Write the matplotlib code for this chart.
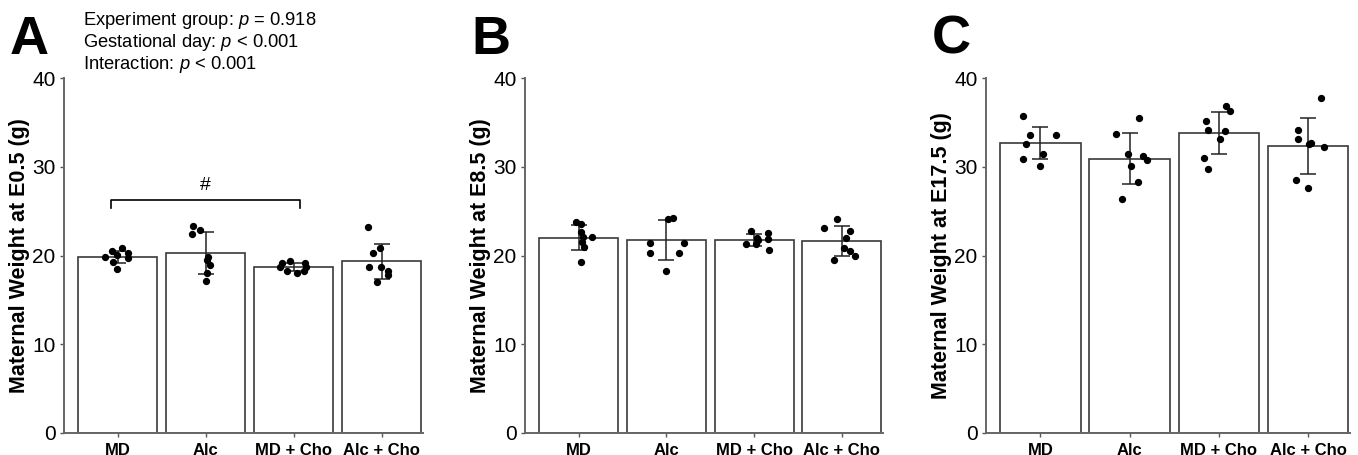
import matplotlib.pyplot as plt

plt.rcParams['font.family'] = ['Liberation Sans', 'DejaVu Sans']
plt.rcParams['mathtext.fontset'] = 'custom'
plt.rcParams['mathtext.it'] = 'Liberation Sans:italic'
plt.rcParams['mathtext.rm'] = 'Liberation Sans'

groups = ['MD', 'Alc', 'MD + Cho', 'Alc + Cho']

# bar means and SD (g)
means_a = [19.87, 20.25, 18.67, 19.35]
sd_a = [0.68, 2.35, 0.47, 2.0]
means_b = [22.0, 21.75, 21.75, 21.6]
sd_b = [1.42, 2.25, 0.7, 1.7]
means_c = [32.7, 30.9, 33.8, 32.3]
sd_c = [1.8, 2.87, 2.4, 3.15]

# individual dams
dots_a = [
    [19.84, 20.5, 20.1, 20.8, 20.25, 19.7, 19.3, 18.45],
    [23.3, 22.9, 22.4, 19.8, 19.5, 18.9, 18.0, 17.1],
    [19.2, 19.4, 19.2, 18.7, 18.2, 18.0, 18.3, 18.7],
    [23.2, 20.9, 20.3, 18.7, 18.7, 18.2, 17.8, 17.05],
]
dots_b = [
    [23.8, 23.5, 22.7, 22.1, 22.1, 21.5, 21.0, 19.3],
    [24.15, 24.26, 21.4, 21.4, 20.25, 20.25, 18.3],
    [22.8, 22.5, 22.0, 21.9, 21.75, 21.3, 21.3, 20.6],
    [24.15, 23.1, 22.8, 22.0, 20.8, 20.5, 19.9, 19.45],
]
dots_c = [
    [35.7, 33.6, 33.6, 32.6, 31.4, 30.9, 30.1],
    [35.5, 33.7, 31.4, 31.25, 30.8, 30.05, 28.3, 26.4],
    [36.9, 36.25, 35.1, 34.1, 34.0, 33.1, 31.0, 29.8],
    [37.7, 34.1, 33.1, 32.7, 32.55, 32.2, 28.5, 27.6],
]

# horizontal jitter of the dots (category units)
jit_a = [
    [-0.14, -0.07, -0.01, 0.05, 0.12, 0.12, -0.05, -0.01],
    [-0.14, -0.06, -0.15, 0.03, 0.01, 0.05, 0.01, 0.0],
    [-0.13, -0.04, 0.13, -0.15, -0.07, 0.04, 0.12, 0.14],
    [-0.15, -0.02, -0.10, -0.14, -0.01, 0.07, 0.07, -0.05],
]
jit_b = [
    [-0.03, 0.03, 0.03, 0.05, 0.15, 0.04, 0.06, 0.03],
    [0.02, 0.08, -0.19, 0.2, -0.18, 0.15, 0.0],
    [-0.03, 0.16, 0.03, 0.16, 0.05, -0.09, 0.02, 0.17],
    [-0.05, -0.2, 0.09, 0.05, 0.02, 0.09, 0.15, -0.09],
]
jit_c = [
    [-0.19, -0.12, 0.17, -0.16, 0.03, -0.19, 0.0],
    [0.1, -0.15, -0.02, 0.15, 0.2, 0.02, 0.09, -0.09],
    [0.08, 0.12, -0.14, -0.12, 0.07, 0.01, -0.17, -0.12],
    [0.15, -0.11, -0.11, 0.03, 0.01, 0.18, -0.14, 0.0],
]

panels = [
    ('A', 'Maternal Weight at E0.5 (g)', means_a, sd_a, dots_a, jit_a, 64, 423),
    ('B', 'Maternal Weight at E8.5 (g)', means_b, sd_b, dots_b, jit_b, 525, 883),
    ('C', 'Maternal Weight at E17.5 (g)', means_c, sd_c, dots_c, jit_c, 986, 1350),
]

W, H = 1358, 455
fig = plt.figure(figsize=(W / 100, H / 100), dpi=100)
axes = []
for letter, ylab, means, sd, dots, jit, x0, x1 in panels:
    ax = fig.add_axes([x0 / W, 1 - 433 / H, (x1 - x0) / W, (433 - 78) / H])
    axes.append(ax)
    x = range(len(groups))
    ax.bar(x, means, width=0.9, color='white', edgecolor='#3a3a3a', linewidth=1.2, zorder=1)
    ax.errorbar(x, means, yerr=sd, fmt='none', ecolor='#222222', elinewidth=1.1,
                capsize=6, capthick=1.1, zorder=2)
    for i, vals in enumerate(dots):
        ax.scatter([i + j for j in jit[i]], vals, s=18, color='black', zorder=3)
    ax.set_xlim(-0.61, 3.47)
    ax.set_ylim(0, 40)
    ax.set_yticks([0, 10, 20, 30, 40])
    ax.set_xticks(list(x))
    ax.set_xticklabels(groups, fontsize=12, fontweight='bold')
    ax.tick_params(axis='y', labelsize=15, length=3, width=1, color='#555555', pad=3)
    ax.tick_params(axis='x', length=3, width=1, color='#555555', pad=4)
    for s in ['top', 'right']:
        ax.spines[s].set_visible(False)
    for s in ['left', 'bottom']:
        ax.spines[s].set_color('#666666')
        ax.spines[s].set_linewidth(1.4)
    ax.set_ylabel(ylab, fontsize=15.5, fontweight='bold', labelpad=1.5)
    fig.text((x0 - 54) / W, 1 - 54 / H, letter, fontsize=39, fontweight='bold',
             ha='left', va='baseline')

# significance bracket in panel A
axa = axes[0]
axa.plot([-0.08, -0.08, 2.07, 2.07], [25.3, 26.3, 26.3, 25.3], color='black', lw=1.2)
axa.text(1.0, 26.9, '#', ha='center', va='bottom', fontsize=14)

stats = ['Experiment group: $p$ = 0.918',
         'Gestational day: $p$ < 0.001',
         'Interaction: $p$ < 0.001']
for k, line in enumerate(stats):
    fig.text(83 / W, 1 - (25 + 22 * k) / H, line, fontsize=13.2,
             ha='left', va='baseline')

fig.savefig('out.png', dpi=100)
